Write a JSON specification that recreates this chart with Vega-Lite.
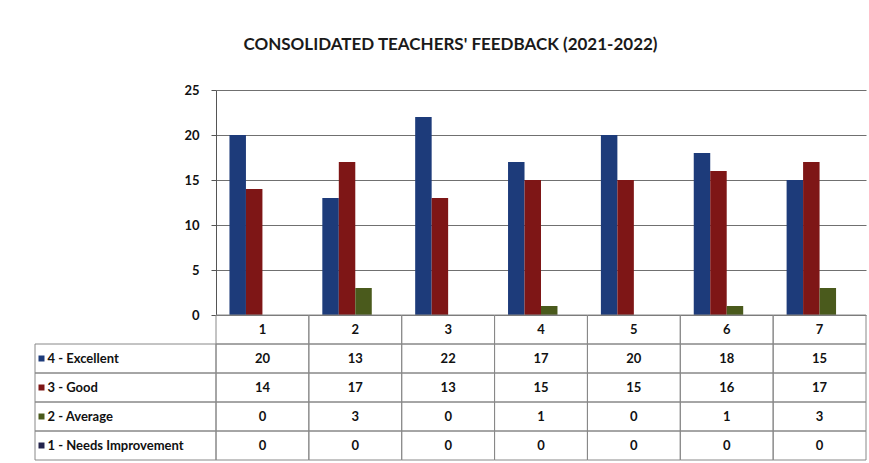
{
  "$schema": "https://vega.github.io/schema/vega-lite/v6.json",
  "padding": {"left": 34, "top": 36, "right": 4, "bottom": 4},
  "background": "white",
  "title": {"text": "CONSOLIDATED TEACHERS' FEEDBACK (2021-2022)", "font": "Lato", "fontSize": 17, "fontWeight": "bold", "color": "#1a1a1a", "anchor": "middle", "offset": 30},
  "datasets": {
    "fb": [
      {"cat": "1", "series": "4 - Excellent", "value": 20},
      {"cat": "2", "series": "4 - Excellent", "value": 13},
      {"cat": "3", "series": "4 - Excellent", "value": 22},
      {"cat": "4", "series": "4 - Excellent", "value": 17},
      {"cat": "5", "series": "4 - Excellent", "value": 20},
      {"cat": "6", "series": "4 - Excellent", "value": 18},
      {"cat": "7", "series": "4 - Excellent", "value": 15},
      {"cat": "1", "series": "3 - Good", "value": 14},
      {"cat": "2", "series": "3 - Good", "value": 17},
      {"cat": "3", "series": "3 - Good", "value": 13},
      {"cat": "4", "series": "3 - Good", "value": 15},
      {"cat": "5", "series": "3 - Good", "value": 15},
      {"cat": "6", "series": "3 - Good", "value": 16},
      {"cat": "7", "series": "3 - Good", "value": 17},
      {"cat": "1", "series": "2 - Average", "value": 0},
      {"cat": "2", "series": "2 - Average", "value": 3},
      {"cat": "3", "series": "2 - Average", "value": 0},
      {"cat": "4", "series": "2 - Average", "value": 1},
      {"cat": "5", "series": "2 - Average", "value": 0},
      {"cat": "6", "series": "2 - Average", "value": 1},
      {"cat": "7", "series": "2 - Average", "value": 3},
      {"cat": "1", "series": "1 - Needs Improvement", "value": 0},
      {"cat": "2", "series": "1 - Needs Improvement", "value": 0},
      {"cat": "3", "series": "1 - Needs Improvement", "value": 0},
      {"cat": "4", "series": "1 - Needs Improvement", "value": 0},
      {"cat": "5", "series": "1 - Needs Improvement", "value": 0},
      {"cat": "6", "series": "1 - Needs Improvement", "value": 0},
      {"cat": "7", "series": "1 - Needs Improvement", "value": 0}
    ]
  },
  "columns": 2,
  "spacing": 0,
  "bounds": "flush",
  "align": "each",
  "config": {"view": {"stroke": null}, "font": "Lato"},
  "concat": [
    {
      "width": 181, "height": 225,
      "data": {"values": [{}]},
      "mark": {"type": "text"},
      "encoding": {"text": {"value": ""}}
    },
    {
      "width": 650, "height": 225,
      "data": {"name": "fb"},
      "mark": {"type": "bar"},
      "encoding": {
        "x": {"field": "cat", "type": "nominal", "axis": null, "scale": {"paddingInner": 0.29, "paddingOuter": 0.145}},
        "xOffset": {"field": "series", "type": "nominal", "sort": ["4 - Excellent", "3 - Good", "2 - Average", "1 - Needs Improvement"]},
        "y": {"field": "value", "type": "quantitative", "scale": {"domain": [0, 25]},
          "axis": {"values": [0, 5, 10, 15, 20, 25], "grid": true, "gridColor": "#707070", "gridWidth": 1, "domain": true, "domainColor": "#555555", "ticks": true, "tickSize": 5, "tickColor": "#555555", "labelPadding": 12, "labelFont": "Lato", "labelFontWeight": "bold", "labelFontSize": 13, "labelColor": "#111111", "title": null}},
        "color": {"field": "series", "type": "nominal",
          "scale": {"domain": ["4 - Excellent", "3 - Good", "2 - Average", "1 - Needs Improvement"], "range": ["#1d3b7a", "#7e1616", "#4a5a1c", "#24244d"]},
          "legend": null}
      }
    },
    {
      "width": 181, "height": 145,
      "data": {"name": "fb"},
      "transform": [{"filter": "datum.cat === '1'"}],
      "mark": {"type": "rect", "filled": false, "stroke": "#888888", "strokeWidth": 1},
      "encoding": {
        "y": {"field": "series", "type": "nominal",
          "scale": {"domain": ["hdr", "4 - Excellent", "3 - Good", "2 - Average", "1 - Needs Improvement"], "paddingInner": 0, "paddingOuter": 0},
          "axis": {"orient": "left", "offset": -9, "zindex": 1, "domain": false, "grid": false, "tickSize": 6, "tickWidth": 6,
            "tickColor": {"condition": [
              {"test": "datum.value === '4 - Excellent'", "value": "#1d3b7a"},
              {"test": "datum.value === '3 - Good'", "value": "#7e1616"},
              {"test": "datum.value === '2 - Average'", "value": "#4a5a1c"},
              {"test": "datum.value === '1 - Needs Improvement'", "value": "#24244d"}
            ], "value": "transparent"},
            "labelAlign": "left", "labelPadding": -9,
            "labelExpr": "datum.value === 'hdr' ? '' : datum.value",
            "labelFont": "Lato", "labelFontWeight": "bold", "labelFontSize": 13, "labelColor": "#111111", "title": null}}
      }
    },
    {
      "width": 650, "height": 145,
      "data": {"name": "fb"},
      "encoding": {
        "x": {"field": "cat", "type": "nominal", "axis": null, "scale": {"paddingInner": 0, "paddingOuter": 0}}
      },
      "layer": [
        {
          "mark": {"type": "rect", "filled": false, "stroke": "#888888", "strokeWidth": 1},
          "encoding": {
            "y": {"field": "series", "type": "nominal", "axis": null,
              "scale": {"domain": ["hdr", "4 - Excellent", "3 - Good", "2 - Average", "1 - Needs Improvement"], "paddingInner": 0, "paddingOuter": 0}}
          }
        },
        {
          "transform": [{"filter": "datum.series === '4 - Excellent'"}],
          "mark": {"type": "rect", "filled": false, "stroke": "#888888", "strokeWidth": 1},
          "encoding": {"y": {"datum": "hdr", "type": "nominal"}}
        },
        {
          "mark": {"type": "text", "font": "Lato", "fontWeight": "bold", "fontSize": 13, "color": "#111111"},
          "encoding": {
            "y": {"field": "series", "type": "nominal"},
            "text": {"field": "value", "type": "quantitative"}
          }
        },
        {
          "transform": [{"filter": "datum.series === '4 - Excellent'"}],
          "mark": {"type": "text", "font": "Lato", "fontWeight": "bold", "fontSize": 13, "color": "#111111"},
          "encoding": {
            "y": {"datum": "hdr", "type": "nominal"},
            "text": {"field": "cat", "type": "nominal"}
          }
        }
      ]
    }
  ]
}
